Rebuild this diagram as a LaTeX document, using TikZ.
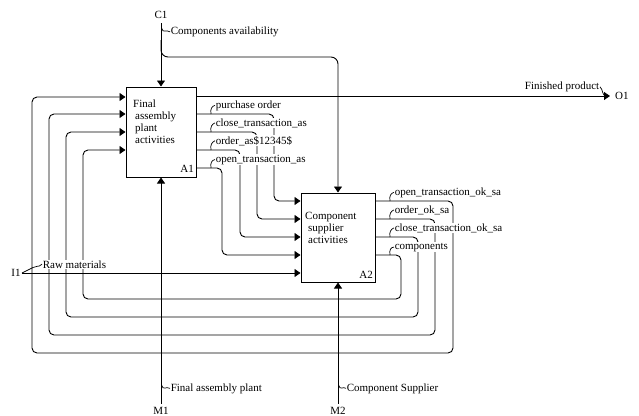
\documentclass[tikz,border=0pt]{standalone}
\usepackage{fontspec}
\setmainfont{Liberation Serif}
\usetikzlibrary{arrows.meta}
\begin{document}
\begin{tikzpicture}[x=1pt,y=-1pt,
  font=\fontsize{11}{12}\selectfont,
  flow/.style={line width=0.9pt, rounded corners=5pt},
  arr/.style={flow, -{Triangle[length=6pt,width=8pt]}},
  act/.style={draw, line width=1pt, fill=white, inner sep=0pt},
  txt/.style={inner sep=0pt},
  lab/.style={fill=white, inner sep=0.6pt, anchor=base west},
  lead/.style={line width=0.7pt}]
\useasboundingbox (0,0) rectangle (639,415);

% activity boxes
\node[act, minimum width=70pt, minimum height=90pt] (A1) at (161,132) {};
\node[act, minimum width=74pt, minimum height=89pt] (A2) at (338,237.5) {};

% box texts
\node[txt, anchor=base west] (a1l1) at (133,107) {Final};
\node[txt, anchor=base west] (a1l2) at (135,119) {assembly};
\node[txt, anchor=base west] (a1l3) at (135,131) {plant};
\node[txt, anchor=base west] (a1l4) at (135,143) {activities};
\node[txt, anchor=base east] (a1n) at (194,172) {A1};
\node[txt, anchor=base west] (a2l1) at (305,219) {Component};
\node[txt, anchor=base west] (a2l2) at (308,231) {supplier};
\node[txt, anchor=base west] (a2l3) at (308,243) {activities};
\node[txt, anchor=base east] (a2n) at (373,278) {A2};

% boundary port labels
\node[txt, anchor=base] (C1) at (161,18) {C1};
\node[txt, anchor=base] (M1) at (161,414) {M1};
\node[txt, anchor=base] (M2) at (338,414) {M2};
\node[txt, anchor=base west] (O1) at (615,99) {O1};
\node[txt, anchor=base] (I1) at (16,276) {I1};

% control
\draw[arr] ([yshift=-5pt]C1.south) -- (A1.north);
\draw[arr, rounded corners=7pt] (161,40) |- (A2.north |- 0,57) -- (A2.north);
% mechanisms
\draw[arr] ([yshift=3pt]M1.north) -- (A1.south);
\draw[arr] ([yshift=3pt]M2.north) -- (A2.south);
% output O1
\draw[arr] (A1.east |- 0,96) -- ([xshift=-5pt]O1.west |- 0,96);
% input I1
\draw[arr] ([xshift=1pt]I1.east |- 0,273) -- (A2.west |- 0,273);

% A1 -> A2
\draw[arr] (A1.east |- 0,114) -| (274,201) -- (A2.west |- 0,201);
\draw[arr] (A1.east |- 0,132) -| (257,219) -- (A2.west |- 0,219);
\draw[arr] (A1.east |- 0,150) -| (240,237) -- (A2.west |- 0,237);
\draw[arr] (A1.east |- 0,168) -| (222,255) -- (A2.west |- 0,255);

% A2 -> A1 feedback
\draw[arr] (A2.east |- 0,201) -| (453,353) -| (32,97) -- (A1.west |- 0,97);
\draw[arr] (A2.east |- 0,219) -| (435,335) -| (49,114) -- (A1.west |- 0,114);
\draw[arr] (A2.east |- 0,237) -| (418,317) -| (66,132) -- (A1.west |- 0,132);
\draw[arr] (A2.east |- 0,255) -| (401,299) -| (83,150) -- (A1.west |- 0,150);

% arrow labels
\node[lab] (lCA) at (170,34.5) {Components availability};
\node[lab] (lPO) at (215,108) {purchase order};
\node[lab] (lCT) at (215,126) {close\_transaction\_as};
\node[lab] (lOA) at (215,144) {order\_as\$12345\$};
\node[lab] (lOT) at (215,162) {open\_transaction\_as};
\node[lab] (lOTok) at (394,195) {open\_transaction\_ok\_sa};
\node[lab] (lOok) at (394,213) {order\_ok\_sa};
\node[lab] (lCTok) at (394,231) {close\_transaction\_ok\_sa};
\node[lab] (lCo) at (394,249) {components};
\node[lab, anchor=base east] (lFP) at (600,89.5) {Finished product};
\node[lab] (lRM) at (42,268) {Raw materials};
\node[lab] (lFA) at (170,391) {Final assembly plant};
\node[lab] (lCS) at (346,391) {Component Supplier};

% leaders
\draw[lead] (161.5,28) .. controls (163,34) and (166,29) .. (lCA.west);
\draw[lead] (211,114) .. controls (210,109) and (212,106) .. (lPO.west);
\draw[lead] (211,132) .. controls (210,127) and (212,124) .. (lCT.west);
\draw[lead] (211,150) .. controls (210,145) and (212,142) .. (lOA.west);
\draw[lead] (211,168) .. controls (210,163) and (212,160) .. (lOT.west);
\draw[lead] (390,201) .. controls (389,196) and (391,193) .. (lOTok.west);
\draw[lead] (390,219) .. controls (389,214) and (391,211) .. (lOok.west);
\draw[lead] (390,237) .. controls (389,232) and (391,229) .. (lCTok.west);
\draw[lead] (390,255) .. controls (389,250) and (391,247) .. (lCo.west);
\draw[lead] (lFP.east) .. controls (603,89) and (602,96) .. (606,96);
\draw[lead] (22,273) -- (33,267.5) .. controls (36,265) and (38,268) .. (lRM.west);
\draw[lead] (161.5,385) .. controls (163,391) and (166,386) .. (lFA.west);
\draw[lead] (338.5,385) .. controls (340,391) and (343,386) .. (lCS.west);
\end{tikzpicture}
\end{document}
